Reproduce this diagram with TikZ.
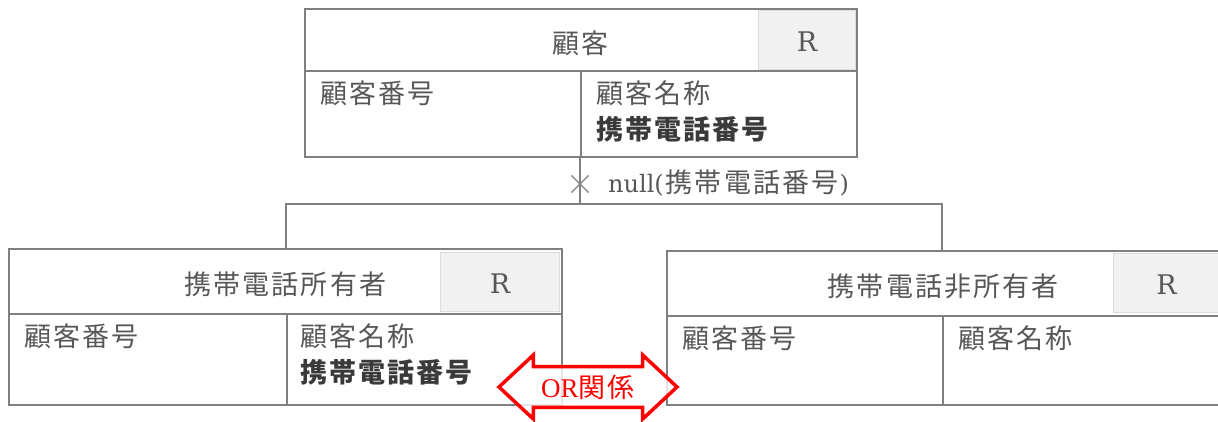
\documentclass[tikz,border=0pt]{standalone}
\usepackage{fontspec}
\setmainfont{Liberation Serif}
\newfontfamily\cjk[LetterSpace=8]{Noto Sans CJK JP}
\newfontfamily\slab{DejaVu Serif}
\usetikzlibrary{shapes.misc,shapes.arrows}
\definecolor{lgray}{HTML}{808080}
\definecolor{tgray}{HTML}{575757}
\definecolor{bgray}{HTML}{3A3A3A}
\definecolor{rfill}{HTML}{F1F1F1}
\definecolor{rbd}{HTML}{DCDCDC}
\tikzset{
  ln/.style={draw=lgray, line width=1.6pt},
  cell/.style={ln, rectangle, inner sep=0pt, anchor=north west},
  rbox/.style={draw=rbd, fill=rfill, line width=1pt, rectangle, inner sep=0pt, anchor=north west},
  txt/.style={text=tgray, font=\cjk\fontsize{27}{36}\selectfont, inner sep=0pt, anchor=north west, align=left},
  htxt/.style={text=tgray, font=\cjk\fontsize{27}{30}\selectfont, inner sep=0pt},
  rtxt/.style={text=tgray, font=\slab\fontsize{27}{30}\selectfont, inner sep=0pt}
}
\newcommand{\bd}[1]{{\bfseries\color{bgray}#1}}
\begin{document}
\begin{tikzpicture}[x=1pt,y=-1pt]
\useasboundingbox (0,0) rectangle (1218,421);
% top entity
\node[cell, minimum width=552pt, minimum height=62pt] (th) at (304,8) {};
\node[rbox, minimum width=97pt, minimum height=59pt] (tr) at (758,10) {};
\node[rtxt] (trt) at ([yshift=-2pt]tr.center) {R};
\node[htxt] (tht) at ([yshift=-3pt]th.center) {顧客};
\node[cell, minimum width=276pt, minimum height=86pt] (tc1) at (304,70) {};
\node[cell, minimum width=276pt, minimum height=86pt] (tc2) at (580,70) {};
\node[txt] (tt1) at ([shift={(16,11)}]tc1.north west) {顧客番号};
\node[txt] (tt2) at ([shift={(16,11)}]tc2.north west) {顧客名称\\\bd{携帯電話番号}};
% left entity
\node[cell, minimum width=553pt, minimum height=65pt] (lh) at (8,248) {};
\node[rbox, minimum width=119pt, minimum height=59pt] (lr) at (440,252) {};
\node[rtxt] (lrt) at ([yshift=-2pt]lr.center) {R};
\node[htxt] (lht) at ([yshift=-3pt]lh.center) {携帯電話所有者};
\node[cell, minimum width=278pt, minimum height=91pt] (lc1) at (8,313) {};
\node[cell, minimum width=275pt, minimum height=91pt] (lc2) at (286,313) {};
\node[txt] (lt1) at ([shift={(16,11)}]lc1.north west) {顧客番号};
\node[txt] (lt2) at ([shift={(14,11)}]lc2.north west) {顧客名称\\\bd{携帯電話番号}};
% right entity
\node[cell, minimum width=553pt, minimum height=65pt] (rh) at (666,250) {};
\node[rbox, minimum width=106pt, minimum height=59pt] (rr) at (1113,253) {};
\node[rtxt] (rrt) at ([yshift=-2pt]rr.center) {R};
\node[htxt] (rht) at ([yshift=-3pt]rh.center) {携帯電話非所有者};
\node[cell, minimum width=276pt, minimum height=89pt] (rc1) at (666,315) {};
\node[cell, minimum width=277pt, minimum height=89pt] (rc2) at (942,315) {};
\node[txt] (rt1) at ([shift={(16,11)}]rc1.north west) {顧客番号};
\node[txt] (rt2) at ([shift={(16,11)}]rc2.north west) {顧客名称};
% connector
\coordinate (jt) at (580,204);
\draw[ln] (tc2.south west) -- (jt);
\draw[ln] (lh.north -| lc2.west) |- (jt) -| (rh.north -| rc2.west);
\node[cross out, draw=lgray, line width=1.2pt, minimum size=16pt, inner sep=0pt] (cx) at (580,184) {};
\node[text=tgray, inner sep=0pt, anchor=west, font=\slab\fontsize{24}{28}\selectfont] (nl) at (608,183) {null(\kern2pt\cjk\fontsize{27}{28}\selectfont 携帯電話番号\slab\fontsize{24}{28}\selectfont\kern1pt)};
% OR arrow
\node[double arrow, draw=red, line width=3.5pt, fill=white, fill opacity=0.8, text opacity=1,
      minimum height=178pt, minimum width=64pt, double arrow head extend=8pt,
      double arrow tip angle=86, inner sep=0pt, text=red,
      font=\fontsize{27}{30}\selectfont] (orr) at (588,387) {OR{\cjk 関係}};
\end{tikzpicture}
\end{document}
